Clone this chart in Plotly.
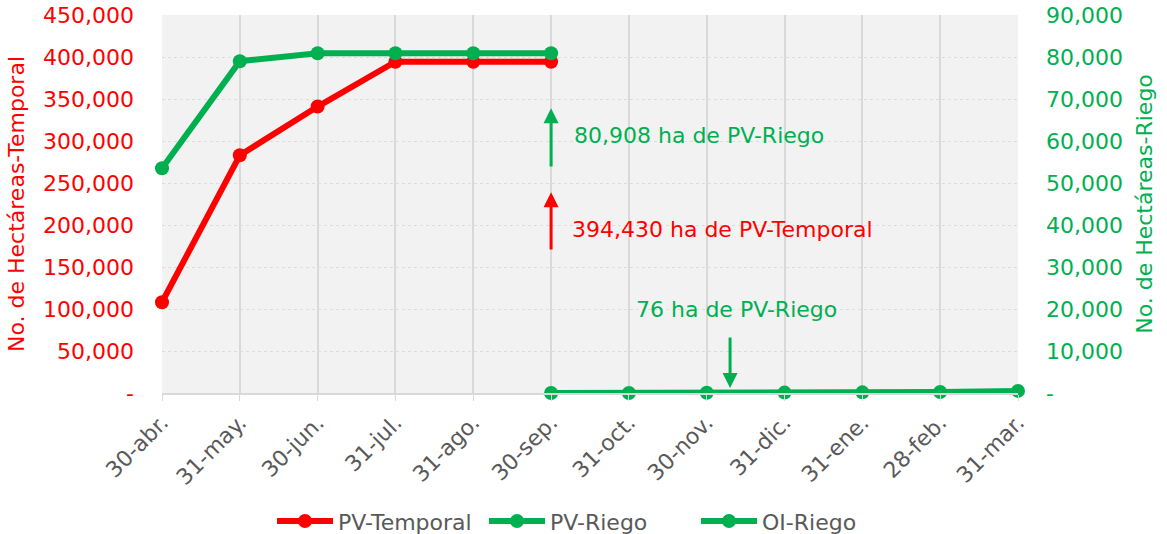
import plotly.graph_objects as go

categories = ["30-abr.", "31-may.", "30-jun.", "31-jul.", "31-ago.", "30-sep.",
              "31-oct.", "30-nov.", "31-dic.", "31-ene.", "28-feb.", "31-mar."]
pv_temporal = [108000, 283000, 341000, 394430, 394430, 394430]
pv_riego = [53500, 79000, 80908, 80908, 80908, 80908]
oi_riego = [0, 10, 76, 100, 150, 250, 500]

left_ticks = [0, 50000, 100000, 150000, 200000, 250000, 300000, 350000, 400000, 450000]
left_text = ["-"] + [f"{v:,}" for v in left_ticks[1:]]
right_ticks = [0, 10000, 20000, 30000, 40000, 50000, 60000, 70000, 80000, 90000]
right_text = ["-"] + [f"{v:,}" for v in right_ticks[1:]]

RED = "#FF0000"
GREEN = "#00B050"
GRAY = "#595959"
FONT = "DejaVu Sans"

fig = go.Figure()
fig.add_trace(go.Scatter(x=categories[:6], y=pv_temporal, name="PV-Temporal",
                         mode="lines+markers", line=dict(color=RED, width=6),
                         marker=dict(size=14, color=RED), cliponaxis=False))
fig.add_trace(go.Scatter(x=categories[:6], y=pv_riego, name="PV-Riego", yaxis="y2",
                         mode="lines+markers", line=dict(color=GREEN, width=6),
                         marker=dict(size=14, color=GREEN), cliponaxis=False))
fig.add_trace(go.Scatter(x=categories[5:], y=oi_riego, name="OI-Riego", yaxis="y2",
                         mode="lines+markers", line=dict(color=GREEN, width=6),
                         marker=dict(size=14, color=GREEN), cliponaxis=False))

ann_font = dict(family=FONT, size=22)
annotations = [
    dict(x=5, y=339000, ax=5, ay=268000, xref="x", yref="y", axref="x", ayref="y",
         showarrow=True, arrowhead=2, arrowsize=1, arrowwidth=3, arrowcolor=GREEN, text=""),
    dict(x=5, y=239000, ax=5, ay=169000, xref="x", yref="y", axref="x", ayref="y",
         showarrow=True, arrowhead=2, arrowsize=1, arrowwidth=3, arrowcolor=RED, text=""),
    dict(x=7.3, y=6000, ax=7.3, ay=68000, xref="x", yref="y", axref="x", ayref="y",
         showarrow=True, arrowhead=2, arrowsize=1, arrowwidth=3, arrowcolor=GREEN, text=""),
    dict(x=5.27, y=306000, xref="x", yref="y", showarrow=False, xanchor="left",
         text="80,908 ha de PV-Riego", font=dict(color=GREEN, **ann_font)),
    dict(x=5.24, y=195000, xref="x", yref="y", showarrow=False, xanchor="left",
         text="394,430 ha de PV-Temporal", font=dict(color=RED, **ann_font)),
    dict(x=7.38, y=100000, xref="x", yref="y", showarrow=False, xanchor="center",
         text="76 ha de PV-Riego", font=dict(color=GREEN, **ann_font)),
]

fig.update_layout(
    width=1167, height=534,
    margin=dict(l=162, r=149, t=15, b=141, autoexpand=False),
    paper_bgcolor="white", plot_bgcolor="#F2F2F2",
    font=dict(family=FONT, size=18, color=GRAY),
    showlegend=True,
    legend=dict(orientation="h", x=0.5, xanchor="center", y=-0.339, yanchor="middle",
                font=dict(size=22, color=GRAY), itemwidth=56,
                entrywidth=141, entrywidthmode="pixels"),
    xaxis=dict(type="category", categoryorder="array", categoryarray=categories,
               range=[0, 11], tickangle=-45, showgrid=True, gridcolor="#D9D9D9",
               gridwidth=2, showline=True, linecolor="#D9D9D9", linewidth=2,
               ticks="outside", tickcolor="#D9D9D9", ticklen=6, automargin=False,
               tickfont=dict(size=22, color=GRAY), zeroline=False),
    yaxis=dict(range=[0, 450000], tickvals=left_ticks, ticktext=left_text,
               tickfont=dict(size=22, color=RED), showgrid=True, gridcolor="#DDDDDD",
               griddash="dot", gridwidth=1, zeroline=False, ticklabelstandoff=27,
               automargin=False,
               title=dict(text="No. de Hectáreas-Temporal", font=dict(size=22, color=RED),
                          standoff=12)),
    yaxis2=dict(range=[0, 90000], tickvals=right_ticks, ticktext=right_text,
                overlaying="y", side="right", showgrid=False, zeroline=False,
                tickfont=dict(size=22, color=GREEN), ticklabelstandoff=27,
                automargin=False,
                title=dict(text="No. de Hectáreas-Riego", font=dict(size=22, color=GREEN),
                           standoff=14)),
    annotations=annotations,
)

fig.write_html("out.html", config={"displayModeBar": False},
               post_script="document.body.style.margin='0px';document.body.style.overflow='hidden';")
